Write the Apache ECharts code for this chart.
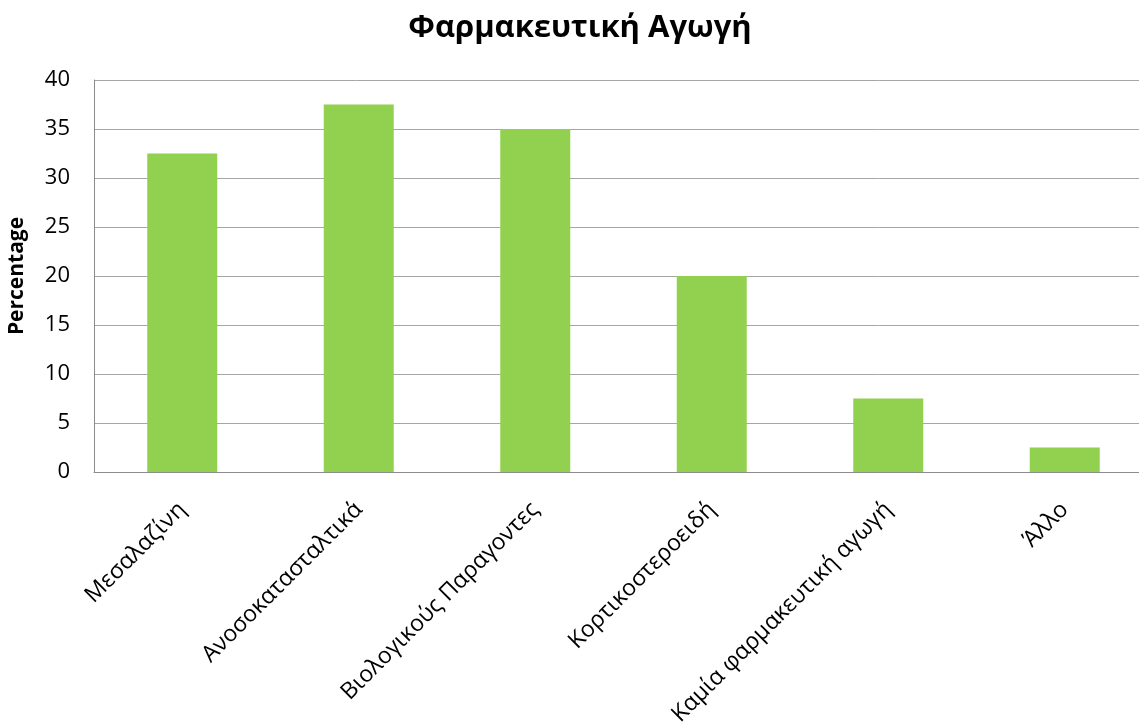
<!DOCTYPE html>
<html>
<head>
<meta charset="utf-8">
<script src="https://cdn.jsdelivr.net/npm/echarts@6/dist/echarts.min.js"></script>
<style>
  html, body { margin: 0; padding: 0; background: #ffffff; }
  #chart { width: 1139px; height: 723px; }
</style>
</head>
<body>
<div id="chart"></div>
<script>
// Categories of drug treatment and the share of patients on each
const categories = [
  'Μεσαλαζίνη',
  'Ανοσοκατασταλτικά',
  'Βιολογικούς Παραγοντες',
  'Κορτικοστεροειδή',
  'Καμία φαρμακευτική αγωγή',
  'Άλλο'
];
const percentages = [32.5, 37.5, 35, 20, 7.5, 2.5];
const yTicks = [0, 5, 10, 15, 20, 25, 30, 35, 40];

const FONT = '"Open Sans", "Noto Sans", "DejaVu Sans", sans-serif';

const chart = echarts.init(document.getElementById('chart'), null, { renderer: 'canvas' });

chart.setOption({
  animation: false,
  backgroundColor: '#ffffff',
  title: {
    text: 'Φαρμακευτική Αγωγή',
    left: 575,
    textAlign: 'center',
    top: 8,
    textStyle: {
      fontFamily: FONT,
      fontSize: 31,
      fontWeight: 'bold',
      color: '#000000'
    }
  },
  grid: {
    left: 94,
    top: 80,
    width: 1059,
    height: 392,
    containLabel: false,
    outerBoundsMode: 'none'
  },
  xAxis: {
    type: 'category',
    data: categories,
    boundaryGap: true,
    axisLine: { show: true, lineStyle: { color: '#8c8c8c', width: 1 } },
    axisTick: { show: false },
    axisLabel: {
      rotate: 45,
      interval: 0,
      margin: 34,
      fontFamily: FONT,
      fontSize: 23,
      color: '#000000'
    }
  },
  yAxis: {
    type: 'value',
    min: yTicks[0],
    max: yTicks[yTicks.length - 1],
    interval: 5,
    name: 'Percentage',
    nameLocation: 'middle',
    nameGap: 66,
    nameRotate: 90,
    nameTextStyle: {
      fontFamily: FONT,
      fontSize: 21,
      fontWeight: 'bold',
      color: '#000000'
    },
    axisLine: { show: true, lineStyle: { color: '#8c8c8c', width: 1 } },
    axisTick: { show: false },
    splitLine: { show: true, lineStyle: { color: '#a6a6a6', width: 1 } },
    axisLabel: {
      margin: 24,
      fontFamily: FONT,
      fontSize: 22,
      color: '#000000'
    }
  },
  series: [{
    type: 'bar',
    data: percentages,
    barWidth: 70,
    itemStyle: { color: '#92D050' }
  }]
});
</script>
</body>
</html>
